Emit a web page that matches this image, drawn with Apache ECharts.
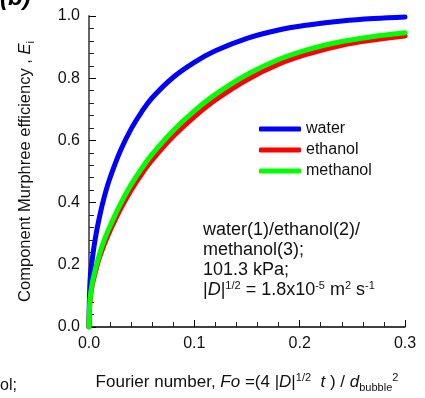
<!DOCTYPE html>
<html>
<head>
<meta charset="utf-8">
<script src="https://cdn.jsdelivr.net/npm/echarts@6/dist/echarts.min.js"></script>
<style>
  html, body { margin: 0; padding: 0; background: #fff; }
  #chart { width: 425px; height: 398px; }
</style>
</head>
<body>
<div id="chart"></div>
<script>
// Fourier number (x) sampled along the curves
const fo = [0, 0.001, 0.003, 0.006, 0.01, 0.015, 0.02, 0.03, 0.04, 0.05, 0.06, 0.08, 0.1, 0.12, 0.15, 0.18, 0.21, 0.24, 0.27, 0.3];
// efficiencies
const water    = [0, 0.15, 0.215, 0.285, 0.355, 0.425, 0.48, 0.568, 0.637, 0.692, 0.737, 0.803, 0.851, 0.888, 0.928, 0.955, 0.972, 0.984, 0.992, 0.997];
const ethanol  = [0, 0.085, 0.133, 0.176, 0.224, 0.27, 0.31, 0.38, 0.44, 0.492, 0.537, 0.613, 0.676, 0.73, 0.795, 0.845, 0.88, 0.906, 0.923, 0.936];
const methanol = [0, 0.09, 0.14, 0.185, 0.235, 0.285, 0.325, 0.397, 0.458, 0.51, 0.556, 0.632, 0.695, 0.748, 0.812, 0.86, 0.894, 0.918, 0.934, 0.946];

const seriesNames = ['water', 'ethanol', 'methanol'];
const seriesColors = ['#0000ff', '#ff0000', '#00ff00'];
const seriesData = [water, ethanol, methanol];

const font = 'Arial, "Liberation Sans", sans-serif';

const chart = echarts.init(document.getElementById('chart'));

const option = {
  animation: false,
  grid: { left: 89, right: 20, top: 16, bottom: 69 },
  legend: {
    data: seriesNames,
    orient: 'vertical',
    left: 254,
    top: 116,
    icon: 'roundRect',
    itemWidth: 42,
    itemHeight: 5,
    itemGap: 5,
    textStyle: { fontFamily: font, fontSize: 16, lineHeight: 16, color: '#111' }
  },
  xAxis: {
    type: 'value',
    min: 0, max: 0.3, interval: 0.1,
    axisLine: { lineStyle: { color: '#000', width: 1.5 } },
    axisTick: { inside: true, length: 7, lineStyle: { color: '#000' } },
    minorTick: { show: true, splitNumber: 5, length: 5, lineStyle: { color: '#222' } },
    splitLine: { show: false },
    axisLabel: { formatter: v => v.toFixed(1), fontFamily: font, fontSize: 16, color: '#111', margin: 9 },
    name: '{n|Fourier number, }{i|Fo}{n| =(4 |}{i|D}{n||}{sup|1/2}{n|  }{i|t}{n| ) / }{i|d}{sub|bubble}{sup|2}',
    nameLocation: 'middle',
    nameGap: 45,
    nameTextStyle: {
      fontFamily: font, fontSize: 17, color: '#111',
      rich: {
        n: { fontFamily: font, fontSize: 17, color: '#111' },
        i: { fontFamily: font, fontSize: 17, color: '#111', fontStyle: 'italic' },
        sup: { fontFamily: font, fontSize: 11, color: '#111', verticalAlign: 'top', padding: [0, 0, 10, 0] },
        sub: { fontFamily: font, fontSize: 11, color: '#111', padding: [10, 0, 0, 0] }
      }
    }
  },
  yAxis: {
    type: 'value',
    min: 0, max: 1, interval: 0.2,
    axisLine: { show: true, lineStyle: { color: '#666', width: 2 } },
    axisTick: { inside: true, length: 7, lineStyle: { color: '#000' } },
    minorTick: { show: true, splitNumber: 5, length: 5, lineStyle: { color: '#222' } },
    splitLine: { show: false },
    axisLabel: { formatter: v => v.toFixed(1), fontFamily: font, fontSize: 16, color: '#111', margin: 9 },
    name: '{n|Component Murphree efficiency , }{i|E}{sub|i}',
    nameLocation: 'middle',
    nameGap: 53,
    nameTextStyle: {
      fontFamily: font, fontSize: 16.5, color: '#111',
      rich: {
        n: { fontFamily: font, fontSize: 16.5, color: '#111' },
        i: { fontFamily: font, fontSize: 16.5, color: '#111', fontStyle: 'italic' },
        sub: { fontFamily: font, fontSize: 11, color: '#111', padding: [10, 0, 0, 0] }
      }
    }
  },
  series: seriesNames.map((name, k) => ({
    name: name,
    type: 'line',
    data: fo.map((x, j) => [x, seriesData[k][j]]),
    smooth: 0.4,
    showSymbol: false,
    symbol: 'none',
    color: seriesColors[k],
    lineStyle: { width: 5, color: seriesColors[k], cap: 'round', join: 'round' }
  })),
  graphic: [
    {
      type: 'text', x: 0, y: 10,
      style: { text: '(b)', font: 'italic bold 24px ' + font, fill: '#000', verticalAlign: 'bottom' }
    },
    {
      type: 'text', x: 0, y: 394,
      style: { text: 'ol;', font: '16px ' + font, fill: '#111', verticalAlign: 'bottom' }
    },
    {
      type: 'text', left: 203, top: 220,
      style: {
        text: '{n|water(1)/ethanol(2)/}\n{n|methanol(3);}\n{n|101.3 kPa;}\n{n||}{i|D}{n||}{sup|1/2}{n| = 1.8x10}{sup|-5}{n| m}{sup|2}{n| s}{sup|-1}',
        font: '18px ' + font,
        fill: '#111',
        lineHeight: 20,
        rich: {
          n: { font: '18px ' + font, fill: '#111', lineHeight: 20 },
          i: { font: 'italic 18px ' + font, fill: '#111', lineHeight: 20 },
          sup: { font: '11px ' + font, fill: '#111', lineHeight: 20, verticalAlign: 'top', padding: [0, 0, 9, 0] }
        }
      }
    }
  ]
};

chart.setOption(option);
</script>
</body>
</html>
